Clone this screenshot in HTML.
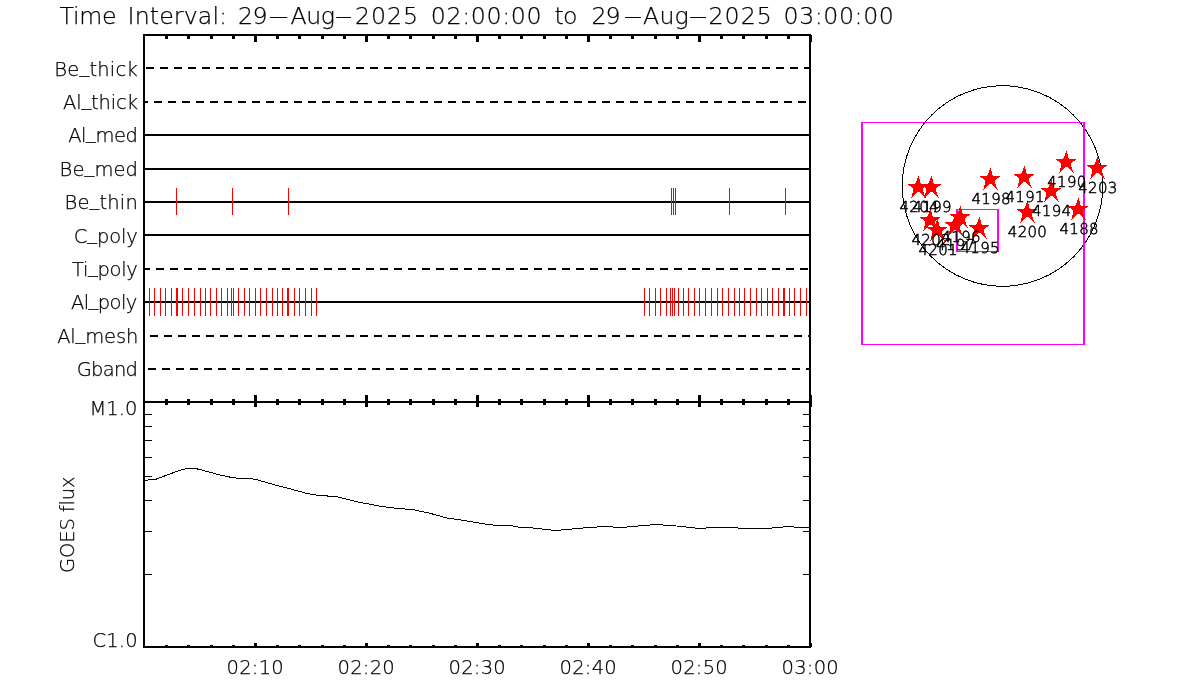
<!DOCTYPE html>
<html lang="en"><head><meta charset="utf-8"><title>Time Interval</title>
<style>
html,body{margin:0;padding:0;background:#fff;}
body{width:1200px;height:700px;overflow:hidden;}
svg{display:block;}
text{white-space:pre;}
</style></head><body>
<svg width="1200" height="700" viewBox="0 0 1200 700">
<rect width="1200" height="700" fill="#fff"/>
<g shape-rendering="crispEdges">
<rect x="143" y="34" width="668" height="2" fill="#000"/>
<rect x="143" y="401" width="668" height="2" fill="#000"/>
<rect x="143" y="646" width="668" height="2" fill="#000"/>
<rect x="143" y="34" width="2" height="614" fill="#000"/>
<rect x="809" y="34" width="2" height="614" fill="#000"/>
<rect x="165" y="36" width="3" height="3" fill="#000"/>
<rect x="165" y="399" width="3" height="6" fill="#000"/>
<rect x="165" y="645" width="3" height="1" fill="#000"/>
<rect x="187" y="36" width="3" height="3" fill="#000"/>
<rect x="187" y="399" width="3" height="6" fill="#000"/>
<rect x="187" y="645" width="3" height="1" fill="#000"/>
<rect x="210" y="36" width="3" height="3" fill="#000"/>
<rect x="210" y="399" width="3" height="6" fill="#000"/>
<rect x="210" y="645" width="3" height="1" fill="#000"/>
<rect x="232" y="36" width="3" height="3" fill="#000"/>
<rect x="232" y="399" width="3" height="6" fill="#000"/>
<rect x="232" y="645" width="3" height="1" fill="#000"/>
<rect x="254" y="36" width="3" height="6" fill="#000"/>
<rect x="254" y="395" width="3" height="12" fill="#000"/>
<rect x="254" y="643" width="3" height="3" fill="#000"/>
<rect x="276" y="36" width="3" height="3" fill="#000"/>
<rect x="276" y="399" width="3" height="6" fill="#000"/>
<rect x="276" y="645" width="3" height="1" fill="#000"/>
<rect x="298" y="36" width="3" height="3" fill="#000"/>
<rect x="298" y="399" width="3" height="6" fill="#000"/>
<rect x="298" y="645" width="3" height="1" fill="#000"/>
<rect x="321" y="36" width="3" height="3" fill="#000"/>
<rect x="321" y="399" width="3" height="6" fill="#000"/>
<rect x="321" y="645" width="3" height="1" fill="#000"/>
<rect x="343" y="36" width="3" height="3" fill="#000"/>
<rect x="343" y="399" width="3" height="6" fill="#000"/>
<rect x="343" y="645" width="3" height="1" fill="#000"/>
<rect x="365" y="36" width="3" height="6" fill="#000"/>
<rect x="365" y="395" width="3" height="12" fill="#000"/>
<rect x="365" y="643" width="3" height="3" fill="#000"/>
<rect x="387" y="36" width="3" height="3" fill="#000"/>
<rect x="387" y="399" width="3" height="6" fill="#000"/>
<rect x="387" y="645" width="3" height="1" fill="#000"/>
<rect x="409" y="36" width="3" height="3" fill="#000"/>
<rect x="409" y="399" width="3" height="6" fill="#000"/>
<rect x="409" y="645" width="3" height="1" fill="#000"/>
<rect x="432" y="36" width="3" height="3" fill="#000"/>
<rect x="432" y="399" width="3" height="6" fill="#000"/>
<rect x="432" y="645" width="3" height="1" fill="#000"/>
<rect x="454" y="36" width="3" height="3" fill="#000"/>
<rect x="454" y="399" width="3" height="6" fill="#000"/>
<rect x="454" y="645" width="3" height="1" fill="#000"/>
<rect x="476" y="36" width="3" height="6" fill="#000"/>
<rect x="476" y="395" width="3" height="12" fill="#000"/>
<rect x="476" y="643" width="3" height="3" fill="#000"/>
<rect x="498" y="36" width="3" height="3" fill="#000"/>
<rect x="498" y="399" width="3" height="6" fill="#000"/>
<rect x="498" y="645" width="3" height="1" fill="#000"/>
<rect x="520" y="36" width="3" height="3" fill="#000"/>
<rect x="520" y="399" width="3" height="6" fill="#000"/>
<rect x="520" y="645" width="3" height="1" fill="#000"/>
<rect x="543" y="36" width="3" height="3" fill="#000"/>
<rect x="543" y="399" width="3" height="6" fill="#000"/>
<rect x="543" y="645" width="3" height="1" fill="#000"/>
<rect x="565" y="36" width="3" height="3" fill="#000"/>
<rect x="565" y="399" width="3" height="6" fill="#000"/>
<rect x="565" y="645" width="3" height="1" fill="#000"/>
<rect x="587" y="36" width="3" height="6" fill="#000"/>
<rect x="587" y="395" width="3" height="12" fill="#000"/>
<rect x="587" y="643" width="3" height="3" fill="#000"/>
<rect x="609" y="36" width="3" height="3" fill="#000"/>
<rect x="609" y="399" width="3" height="6" fill="#000"/>
<rect x="609" y="645" width="3" height="1" fill="#000"/>
<rect x="631" y="36" width="3" height="3" fill="#000"/>
<rect x="631" y="399" width="3" height="6" fill="#000"/>
<rect x="631" y="645" width="3" height="1" fill="#000"/>
<rect x="654" y="36" width="3" height="3" fill="#000"/>
<rect x="654" y="399" width="3" height="6" fill="#000"/>
<rect x="654" y="645" width="3" height="1" fill="#000"/>
<rect x="676" y="36" width="3" height="3" fill="#000"/>
<rect x="676" y="399" width="3" height="6" fill="#000"/>
<rect x="676" y="645" width="3" height="1" fill="#000"/>
<rect x="698" y="36" width="3" height="6" fill="#000"/>
<rect x="698" y="395" width="3" height="12" fill="#000"/>
<rect x="698" y="643" width="3" height="3" fill="#000"/>
<rect x="720" y="36" width="3" height="3" fill="#000"/>
<rect x="720" y="399" width="3" height="6" fill="#000"/>
<rect x="720" y="645" width="3" height="1" fill="#000"/>
<rect x="742" y="36" width="3" height="3" fill="#000"/>
<rect x="742" y="399" width="3" height="6" fill="#000"/>
<rect x="742" y="645" width="3" height="1" fill="#000"/>
<rect x="765" y="36" width="3" height="3" fill="#000"/>
<rect x="765" y="399" width="3" height="6" fill="#000"/>
<rect x="765" y="645" width="3" height="1" fill="#000"/>
<rect x="787" y="36" width="3" height="3" fill="#000"/>
<rect x="787" y="399" width="3" height="6" fill="#000"/>
<rect x="787" y="645" width="3" height="1" fill="#000"/>
<rect x="811" y="35" width="1" height="7" fill="#000"/>
<rect x="811" y="395" width="1" height="12" fill="#000"/>
<rect x="811" y="643" width="1" height="4" fill="#000"/>
<rect x="146" y="67" width="8" height="2" fill="#000"/>
<rect x="160" y="67" width="8" height="2" fill="#000"/>
<rect x="174" y="67" width="8" height="2" fill="#000"/>
<rect x="188" y="67" width="8" height="2" fill="#000"/>
<rect x="202" y="67" width="8" height="2" fill="#000"/>
<rect x="216" y="67" width="8" height="2" fill="#000"/>
<rect x="230" y="67" width="8" height="2" fill="#000"/>
<rect x="244" y="67" width="8" height="2" fill="#000"/>
<rect x="258" y="67" width="8" height="2" fill="#000"/>
<rect x="272" y="67" width="8" height="2" fill="#000"/>
<rect x="286" y="67" width="8" height="2" fill="#000"/>
<rect x="300" y="67" width="8" height="2" fill="#000"/>
<rect x="314" y="67" width="8" height="2" fill="#000"/>
<rect x="328" y="67" width="8" height="2" fill="#000"/>
<rect x="342" y="67" width="8" height="2" fill="#000"/>
<rect x="356" y="67" width="8" height="2" fill="#000"/>
<rect x="370" y="67" width="8" height="2" fill="#000"/>
<rect x="384" y="67" width="8" height="2" fill="#000"/>
<rect x="398" y="67" width="8" height="2" fill="#000"/>
<rect x="412" y="67" width="8" height="2" fill="#000"/>
<rect x="426" y="67" width="8" height="2" fill="#000"/>
<rect x="440" y="67" width="8" height="2" fill="#000"/>
<rect x="454" y="67" width="8" height="2" fill="#000"/>
<rect x="468" y="67" width="8" height="2" fill="#000"/>
<rect x="482" y="67" width="8" height="2" fill="#000"/>
<rect x="496" y="67" width="8" height="2" fill="#000"/>
<rect x="510" y="67" width="8" height="2" fill="#000"/>
<rect x="524" y="67" width="8" height="2" fill="#000"/>
<rect x="538" y="67" width="8" height="2" fill="#000"/>
<rect x="552" y="67" width="8" height="2" fill="#000"/>
<rect x="566" y="67" width="8" height="2" fill="#000"/>
<rect x="580" y="67" width="8" height="2" fill="#000"/>
<rect x="594" y="67" width="8" height="2" fill="#000"/>
<rect x="608" y="67" width="8" height="2" fill="#000"/>
<rect x="622" y="67" width="8" height="2" fill="#000"/>
<rect x="636" y="67" width="8" height="2" fill="#000"/>
<rect x="650" y="67" width="8" height="2" fill="#000"/>
<rect x="664" y="67" width="8" height="2" fill="#000"/>
<rect x="678" y="67" width="8" height="2" fill="#000"/>
<rect x="692" y="67" width="8" height="2" fill="#000"/>
<rect x="706" y="67" width="8" height="2" fill="#000"/>
<rect x="720" y="67" width="8" height="2" fill="#000"/>
<rect x="734" y="67" width="8" height="2" fill="#000"/>
<rect x="748" y="67" width="8" height="2" fill="#000"/>
<rect x="762" y="67" width="8" height="2" fill="#000"/>
<rect x="776" y="67" width="8" height="2" fill="#000"/>
<rect x="790" y="67" width="8" height="2" fill="#000"/>
<rect x="804" y="67" width="5" height="2" fill="#000"/>
<rect x="145" y="101" width="3" height="2" fill="#000"/>
<rect x="154" y="101" width="8" height="2" fill="#000"/>
<rect x="168" y="101" width="8" height="2" fill="#000"/>
<rect x="182" y="101" width="8" height="2" fill="#000"/>
<rect x="196" y="101" width="8" height="2" fill="#000"/>
<rect x="210" y="101" width="8" height="2" fill="#000"/>
<rect x="224" y="101" width="8" height="2" fill="#000"/>
<rect x="238" y="101" width="8" height="2" fill="#000"/>
<rect x="252" y="101" width="8" height="2" fill="#000"/>
<rect x="266" y="101" width="8" height="2" fill="#000"/>
<rect x="280" y="101" width="8" height="2" fill="#000"/>
<rect x="294" y="101" width="8" height="2" fill="#000"/>
<rect x="308" y="101" width="8" height="2" fill="#000"/>
<rect x="322" y="101" width="8" height="2" fill="#000"/>
<rect x="336" y="101" width="8" height="2" fill="#000"/>
<rect x="350" y="101" width="8" height="2" fill="#000"/>
<rect x="364" y="101" width="8" height="2" fill="#000"/>
<rect x="378" y="101" width="8" height="2" fill="#000"/>
<rect x="392" y="101" width="8" height="2" fill="#000"/>
<rect x="406" y="101" width="8" height="2" fill="#000"/>
<rect x="420" y="101" width="8" height="2" fill="#000"/>
<rect x="434" y="101" width="8" height="2" fill="#000"/>
<rect x="448" y="101" width="8" height="2" fill="#000"/>
<rect x="462" y="101" width="8" height="2" fill="#000"/>
<rect x="476" y="101" width="8" height="2" fill="#000"/>
<rect x="490" y="101" width="8" height="2" fill="#000"/>
<rect x="504" y="101" width="8" height="2" fill="#000"/>
<rect x="518" y="101" width="8" height="2" fill="#000"/>
<rect x="532" y="101" width="8" height="2" fill="#000"/>
<rect x="546" y="101" width="8" height="2" fill="#000"/>
<rect x="560" y="101" width="8" height="2" fill="#000"/>
<rect x="574" y="101" width="8" height="2" fill="#000"/>
<rect x="588" y="101" width="8" height="2" fill="#000"/>
<rect x="602" y="101" width="8" height="2" fill="#000"/>
<rect x="616" y="101" width="8" height="2" fill="#000"/>
<rect x="630" y="101" width="8" height="2" fill="#000"/>
<rect x="644" y="101" width="8" height="2" fill="#000"/>
<rect x="658" y="101" width="8" height="2" fill="#000"/>
<rect x="672" y="101" width="8" height="2" fill="#000"/>
<rect x="686" y="101" width="8" height="2" fill="#000"/>
<rect x="700" y="101" width="8" height="2" fill="#000"/>
<rect x="714" y="101" width="8" height="2" fill="#000"/>
<rect x="728" y="101" width="8" height="2" fill="#000"/>
<rect x="742" y="101" width="8" height="2" fill="#000"/>
<rect x="756" y="101" width="8" height="2" fill="#000"/>
<rect x="770" y="101" width="8" height="2" fill="#000"/>
<rect x="784" y="101" width="8" height="2" fill="#000"/>
<rect x="798" y="101" width="8" height="2" fill="#000"/>
<rect x="145" y="134" width="664" height="2" fill="#000"/>
<rect x="145" y="168" width="664" height="2" fill="#000"/>
<rect x="145" y="201" width="664" height="2" fill="#000"/>
<rect x="145" y="234" width="664" height="2" fill="#000"/>
<rect x="145" y="268" width="5" height="2" fill="#000"/>
<rect x="156" y="268" width="8" height="2" fill="#000"/>
<rect x="170" y="268" width="8" height="2" fill="#000"/>
<rect x="184" y="268" width="8" height="2" fill="#000"/>
<rect x="198" y="268" width="8" height="2" fill="#000"/>
<rect x="212" y="268" width="8" height="2" fill="#000"/>
<rect x="226" y="268" width="8" height="2" fill="#000"/>
<rect x="240" y="268" width="8" height="2" fill="#000"/>
<rect x="254" y="268" width="8" height="2" fill="#000"/>
<rect x="268" y="268" width="8" height="2" fill="#000"/>
<rect x="282" y="268" width="8" height="2" fill="#000"/>
<rect x="296" y="268" width="8" height="2" fill="#000"/>
<rect x="310" y="268" width="8" height="2" fill="#000"/>
<rect x="324" y="268" width="8" height="2" fill="#000"/>
<rect x="338" y="268" width="8" height="2" fill="#000"/>
<rect x="352" y="268" width="8" height="2" fill="#000"/>
<rect x="366" y="268" width="8" height="2" fill="#000"/>
<rect x="380" y="268" width="8" height="2" fill="#000"/>
<rect x="394" y="268" width="8" height="2" fill="#000"/>
<rect x="408" y="268" width="8" height="2" fill="#000"/>
<rect x="422" y="268" width="8" height="2" fill="#000"/>
<rect x="436" y="268" width="8" height="2" fill="#000"/>
<rect x="450" y="268" width="8" height="2" fill="#000"/>
<rect x="464" y="268" width="8" height="2" fill="#000"/>
<rect x="478" y="268" width="8" height="2" fill="#000"/>
<rect x="492" y="268" width="8" height="2" fill="#000"/>
<rect x="506" y="268" width="8" height="2" fill="#000"/>
<rect x="520" y="268" width="8" height="2" fill="#000"/>
<rect x="534" y="268" width="8" height="2" fill="#000"/>
<rect x="548" y="268" width="8" height="2" fill="#000"/>
<rect x="562" y="268" width="8" height="2" fill="#000"/>
<rect x="576" y="268" width="8" height="2" fill="#000"/>
<rect x="590" y="268" width="8" height="2" fill="#000"/>
<rect x="604" y="268" width="8" height="2" fill="#000"/>
<rect x="618" y="268" width="8" height="2" fill="#000"/>
<rect x="632" y="268" width="8" height="2" fill="#000"/>
<rect x="646" y="268" width="8" height="2" fill="#000"/>
<rect x="660" y="268" width="8" height="2" fill="#000"/>
<rect x="674" y="268" width="8" height="2" fill="#000"/>
<rect x="688" y="268" width="8" height="2" fill="#000"/>
<rect x="702" y="268" width="8" height="2" fill="#000"/>
<rect x="716" y="268" width="8" height="2" fill="#000"/>
<rect x="730" y="268" width="8" height="2" fill="#000"/>
<rect x="744" y="268" width="8" height="2" fill="#000"/>
<rect x="758" y="268" width="8" height="2" fill="#000"/>
<rect x="772" y="268" width="8" height="2" fill="#000"/>
<rect x="786" y="268" width="8" height="2" fill="#000"/>
<rect x="800" y="268" width="8" height="2" fill="#000"/>
<rect x="145" y="301" width="664" height="2" fill="#000"/>
<rect x="150" y="335" width="8" height="2" fill="#000"/>
<rect x="164" y="335" width="8" height="2" fill="#000"/>
<rect x="178" y="335" width="8" height="2" fill="#000"/>
<rect x="192" y="335" width="8" height="2" fill="#000"/>
<rect x="206" y="335" width="8" height="2" fill="#000"/>
<rect x="220" y="335" width="8" height="2" fill="#000"/>
<rect x="234" y="335" width="8" height="2" fill="#000"/>
<rect x="248" y="335" width="8" height="2" fill="#000"/>
<rect x="262" y="335" width="8" height="2" fill="#000"/>
<rect x="276" y="335" width="8" height="2" fill="#000"/>
<rect x="290" y="335" width="8" height="2" fill="#000"/>
<rect x="304" y="335" width="8" height="2" fill="#000"/>
<rect x="318" y="335" width="8" height="2" fill="#000"/>
<rect x="332" y="335" width="8" height="2" fill="#000"/>
<rect x="346" y="335" width="8" height="2" fill="#000"/>
<rect x="360" y="335" width="8" height="2" fill="#000"/>
<rect x="374" y="335" width="8" height="2" fill="#000"/>
<rect x="388" y="335" width="8" height="2" fill="#000"/>
<rect x="402" y="335" width="8" height="2" fill="#000"/>
<rect x="416" y="335" width="8" height="2" fill="#000"/>
<rect x="430" y="335" width="8" height="2" fill="#000"/>
<rect x="444" y="335" width="8" height="2" fill="#000"/>
<rect x="458" y="335" width="8" height="2" fill="#000"/>
<rect x="472" y="335" width="8" height="2" fill="#000"/>
<rect x="486" y="335" width="8" height="2" fill="#000"/>
<rect x="500" y="335" width="8" height="2" fill="#000"/>
<rect x="514" y="335" width="8" height="2" fill="#000"/>
<rect x="528" y="335" width="8" height="2" fill="#000"/>
<rect x="542" y="335" width="8" height="2" fill="#000"/>
<rect x="556" y="335" width="8" height="2" fill="#000"/>
<rect x="570" y="335" width="8" height="2" fill="#000"/>
<rect x="584" y="335" width="8" height="2" fill="#000"/>
<rect x="598" y="335" width="8" height="2" fill="#000"/>
<rect x="612" y="335" width="8" height="2" fill="#000"/>
<rect x="626" y="335" width="8" height="2" fill="#000"/>
<rect x="640" y="335" width="8" height="2" fill="#000"/>
<rect x="654" y="335" width="8" height="2" fill="#000"/>
<rect x="668" y="335" width="8" height="2" fill="#000"/>
<rect x="682" y="335" width="8" height="2" fill="#000"/>
<rect x="696" y="335" width="8" height="2" fill="#000"/>
<rect x="710" y="335" width="8" height="2" fill="#000"/>
<rect x="724" y="335" width="8" height="2" fill="#000"/>
<rect x="738" y="335" width="8" height="2" fill="#000"/>
<rect x="752" y="335" width="8" height="2" fill="#000"/>
<rect x="766" y="335" width="8" height="2" fill="#000"/>
<rect x="780" y="335" width="8" height="2" fill="#000"/>
<rect x="794" y="335" width="8" height="2" fill="#000"/>
<rect x="808" y="335" width="1" height="2" fill="#000"/>
<rect x="148" y="368" width="8" height="2" fill="#000"/>
<rect x="162" y="368" width="8" height="2" fill="#000"/>
<rect x="176" y="368" width="8" height="2" fill="#000"/>
<rect x="190" y="368" width="8" height="2" fill="#000"/>
<rect x="204" y="368" width="8" height="2" fill="#000"/>
<rect x="218" y="368" width="8" height="2" fill="#000"/>
<rect x="232" y="368" width="8" height="2" fill="#000"/>
<rect x="246" y="368" width="8" height="2" fill="#000"/>
<rect x="260" y="368" width="8" height="2" fill="#000"/>
<rect x="274" y="368" width="8" height="2" fill="#000"/>
<rect x="288" y="368" width="8" height="2" fill="#000"/>
<rect x="302" y="368" width="8" height="2" fill="#000"/>
<rect x="316" y="368" width="8" height="2" fill="#000"/>
<rect x="330" y="368" width="8" height="2" fill="#000"/>
<rect x="344" y="368" width="8" height="2" fill="#000"/>
<rect x="358" y="368" width="8" height="2" fill="#000"/>
<rect x="372" y="368" width="8" height="2" fill="#000"/>
<rect x="386" y="368" width="8" height="2" fill="#000"/>
<rect x="400" y="368" width="8" height="2" fill="#000"/>
<rect x="414" y="368" width="8" height="2" fill="#000"/>
<rect x="428" y="368" width="8" height="2" fill="#000"/>
<rect x="442" y="368" width="8" height="2" fill="#000"/>
<rect x="456" y="368" width="8" height="2" fill="#000"/>
<rect x="470" y="368" width="8" height="2" fill="#000"/>
<rect x="484" y="368" width="8" height="2" fill="#000"/>
<rect x="498" y="368" width="8" height="2" fill="#000"/>
<rect x="512" y="368" width="8" height="2" fill="#000"/>
<rect x="526" y="368" width="8" height="2" fill="#000"/>
<rect x="540" y="368" width="8" height="2" fill="#000"/>
<rect x="554" y="368" width="8" height="2" fill="#000"/>
<rect x="568" y="368" width="8" height="2" fill="#000"/>
<rect x="582" y="368" width="8" height="2" fill="#000"/>
<rect x="596" y="368" width="8" height="2" fill="#000"/>
<rect x="610" y="368" width="8" height="2" fill="#000"/>
<rect x="624" y="368" width="8" height="2" fill="#000"/>
<rect x="638" y="368" width="8" height="2" fill="#000"/>
<rect x="652" y="368" width="8" height="2" fill="#000"/>
<rect x="666" y="368" width="8" height="2" fill="#000"/>
<rect x="680" y="368" width="8" height="2" fill="#000"/>
<rect x="694" y="368" width="8" height="2" fill="#000"/>
<rect x="708" y="368" width="8" height="2" fill="#000"/>
<rect x="722" y="368" width="8" height="2" fill="#000"/>
<rect x="736" y="368" width="8" height="2" fill="#000"/>
<rect x="750" y="368" width="8" height="2" fill="#000"/>
<rect x="764" y="368" width="8" height="2" fill="#000"/>
<rect x="778" y="368" width="8" height="2" fill="#000"/>
<rect x="792" y="368" width="8" height="2" fill="#000"/>
<rect x="806" y="368" width="3" height="2" fill="#000"/>
<rect x="145" y="414" width="7" height="1" fill="#000"/>
<rect x="803" y="414" width="6" height="1" fill="#000"/>
<rect x="145" y="426" width="7" height="1" fill="#000"/>
<rect x="803" y="426" width="6" height="1" fill="#000"/>
<rect x="145" y="440" width="7" height="1" fill="#000"/>
<rect x="803" y="440" width="6" height="1" fill="#000"/>
<rect x="145" y="457" width="7" height="1" fill="#000"/>
<rect x="803" y="457" width="6" height="1" fill="#000"/>
<rect x="145" y="476" width="7" height="1" fill="#000"/>
<rect x="803" y="476" width="6" height="1" fill="#000"/>
<rect x="145" y="500" width="7" height="1" fill="#000"/>
<rect x="803" y="500" width="6" height="1" fill="#000"/>
<rect x="145" y="531" width="7" height="1" fill="#000"/>
<rect x="803" y="531" width="6" height="1" fill="#000"/>
<rect x="145" y="574" width="7" height="1" fill="#000"/>
<rect x="803" y="574" width="6" height="1" fill="#000"/>
<rect x="176" y="188" width="1" height="27" fill="#f00"/>
<rect x="232" y="188" width="1" height="27" fill="#f00"/>
<rect x="288" y="188" width="1" height="27" fill="#f00"/>
<rect x="671" y="188" width="1" height="27" fill="#f00"/>
<rect x="673" y="188" width="1" height="27" fill="#f00"/>
<rect x="675" y="188" width="1" height="27" fill="#f00"/>
<rect x="729" y="188" width="1" height="27" fill="#f00"/>
<rect x="785" y="188" width="1" height="27" fill="#f00"/>
<rect x="149" y="288" width="1" height="28" fill="#f00"/>
<rect x="154" y="288" width="1" height="28" fill="#f00"/>
<rect x="160" y="288" width="1" height="28" fill="#f00"/>
<rect x="165" y="288" width="1" height="28" fill="#f00"/>
<rect x="171" y="288" width="1" height="28" fill="#f00"/>
<rect x="176" y="288" width="1" height="28" fill="#f00"/>
<rect x="177" y="288" width="1" height="28" fill="#f00"/>
<rect x="182" y="288" width="1" height="28" fill="#f00"/>
<rect x="188" y="288" width="1" height="28" fill="#f00"/>
<rect x="194" y="288" width="1" height="28" fill="#f00"/>
<rect x="200" y="288" width="1" height="28" fill="#f00"/>
<rect x="205" y="288" width="1" height="28" fill="#f00"/>
<rect x="210" y="288" width="1" height="28" fill="#f00"/>
<rect x="216" y="288" width="1" height="28" fill="#f00"/>
<rect x="221" y="288" width="1" height="28" fill="#f00"/>
<rect x="227" y="288" width="1" height="28" fill="#f00"/>
<rect x="231" y="288" width="1" height="28" fill="#f00"/>
<rect x="233" y="288" width="1" height="28" fill="#f00"/>
<rect x="238" y="288" width="1" height="28" fill="#f00"/>
<rect x="244" y="288" width="1" height="28" fill="#f00"/>
<rect x="249" y="288" width="1" height="28" fill="#f00"/>
<rect x="255" y="288" width="1" height="28" fill="#f00"/>
<rect x="260" y="288" width="1" height="28" fill="#f00"/>
<rect x="266" y="288" width="1" height="28" fill="#f00"/>
<rect x="272" y="288" width="1" height="28" fill="#f00"/>
<rect x="277" y="288" width="1" height="28" fill="#f00"/>
<rect x="282" y="288" width="1" height="28" fill="#f00"/>
<rect x="287" y="288" width="1" height="28" fill="#f00"/>
<rect x="288" y="288" width="1" height="28" fill="#f00"/>
<rect x="294" y="288" width="1" height="28" fill="#f00"/>
<rect x="299" y="288" width="1" height="28" fill="#f00"/>
<rect x="305" y="288" width="1" height="28" fill="#f00"/>
<rect x="311" y="288" width="1" height="28" fill="#f00"/>
<rect x="316" y="288" width="1" height="28" fill="#f00"/>
<rect x="644" y="288" width="1" height="28" fill="#f00"/>
<rect x="649" y="288" width="1" height="28" fill="#f00"/>
<rect x="655" y="288" width="1" height="28" fill="#f00"/>
<rect x="660" y="288" width="1" height="28" fill="#f00"/>
<rect x="666" y="288" width="1" height="28" fill="#f00"/>
<rect x="670" y="288" width="1" height="28" fill="#f00"/>
<rect x="672" y="288" width="1" height="28" fill="#f00"/>
<rect x="674" y="288" width="1" height="28" fill="#f00"/>
<rect x="678" y="288" width="1" height="28" fill="#f00"/>
<rect x="683" y="288" width="1" height="28" fill="#f00"/>
<rect x="688" y="288" width="1" height="28" fill="#f00"/>
<rect x="694" y="288" width="1" height="28" fill="#f00"/>
<rect x="699" y="288" width="1" height="28" fill="#f00"/>
<rect x="705" y="288" width="1" height="28" fill="#f00"/>
<rect x="711" y="288" width="1" height="28" fill="#f00"/>
<rect x="717" y="288" width="1" height="28" fill="#f00"/>
<rect x="722" y="288" width="1" height="28" fill="#f00"/>
<rect x="728" y="288" width="1" height="28" fill="#f00"/>
<rect x="734" y="288" width="1" height="28" fill="#f00"/>
<rect x="739" y="288" width="1" height="28" fill="#f00"/>
<rect x="744" y="288" width="1" height="28" fill="#f00"/>
<rect x="750" y="288" width="1" height="28" fill="#f00"/>
<rect x="756" y="288" width="1" height="28" fill="#f00"/>
<rect x="761" y="288" width="1" height="28" fill="#f00"/>
<rect x="767" y="288" width="1" height="28" fill="#f00"/>
<rect x="772" y="288" width="1" height="28" fill="#f00"/>
<rect x="778" y="288" width="1" height="28" fill="#f00"/>
<rect x="783" y="288" width="1" height="28" fill="#f00"/>
<rect x="784" y="288" width="1" height="28" fill="#f00"/>
<rect x="789" y="288" width="1" height="28" fill="#f00"/>
<rect x="794" y="288" width="1" height="28" fill="#f00"/>
<rect x="800" y="288" width="1" height="28" fill="#f00"/>
<rect x="806" y="288" width="1" height="28" fill="#f00"/>
</g>
<polyline fill="none" stroke="#000" stroke-width="1" shape-rendering="crispEdges" points="145,480.4 156.2,479.1 168.8,474.4 178.8,470.6 188.1,468.3 193.8,468.3 200,469.5 210,472.3 221.3,475.3 231.9,477.5 240,478.4 248.8,478.4 256.3,479.6 266.3,482.5 277.5,485.6 290,488.8 308.3,493.8 318.3,495.3 330,496.2 335.8,496.5 356.7,501.7 380,506.2 396.7,508.3 413.3,509.7 430,513.3 446.7,518 463.3,520.3 486.7,524.3 496.7,525.5 510,525.5 520,527.3 528,527.5 538.7,528.5 546,529.5 555.4,530.5 566.4,529.5 577.5,528.5 588.5,527.5 605,526.5 621.3,527.5 632.3,526.5 644,525.5 655.4,524.5 670,525.5 682.7,526.5 690,527.5 699.5,528.5 712,527.5 732,527.5 744,528.5 766,528.5 777.5,527.5 788.5,526.5 799,527.5 809,527.5"/>
<circle cx="1002.5" cy="186" r="100.3" fill="none" stroke="#000" stroke-width="1" shape-rendering="crispEdges"/>
<g shape-rendering="crispEdges">
<rect x="956" y="209" width="43" height="1" fill="#f0f"/>
<rect x="956" y="251" width="43" height="1" fill="#f0f"/>
<rect x="956" y="209" width="2" height="43" fill="#f0f"/>
<rect x="997" y="209" width="2" height="43" fill="#f0f"/>
<rect x="861" y="122" width="224" height="1" fill="#f0f"/>
<rect x="861" y="344" width="224" height="1" fill="#f0f"/>
<rect x="861" y="122" width="2" height="223" fill="#f0f"/>
<rect x="1083" y="122" width="2" height="223" fill="#f0f"/>
</g>
<g fill="#f00" shape-rendering="crispEdges">
<path transform="translate(1054,150)" d="M12,1h1v1h-1zM12,2h1v1h-1zM11,3h2v1h-2zM11,4h3v1h-3zM11,5h3v1h-3zM10,6h4v1h-4zM10,7h4v1h-4zM9,8h6v1h-6zM2,9h20v1h-20zM3,10h18v1h-18zM5,11h14v1h-14zM6,12h12v1h-12zM7,13h10v1h-10zM7,14h10v1h-10zM7,15h10v1h-10zM7,16h10v1h-10zM7,17h4v1h-4zM14,17h4v1h-4zM6,18h4v1h-4zM15,18h3v1h-3zM6,19h3v1h-3zM16,19h2v1h-2zM6,20h2v1h-2zM17,20h2v1h-2zM6,21h1v1h-1zM18,21h1v1h-1zM5,22h1v1h-1zM19,22h1v1h-1z"/>
<path transform="translate(1085,156)" d="M12,1h1v1h-1zM12,2h1v1h-1zM11,3h2v1h-2zM11,4h3v1h-3zM11,5h3v1h-3zM10,6h4v1h-4zM10,7h4v1h-4zM9,8h6v1h-6zM2,9h20v1h-20zM3,10h18v1h-18zM5,11h14v1h-14zM6,12h12v1h-12zM7,13h10v1h-10zM7,14h10v1h-10zM7,15h10v1h-10zM7,16h10v1h-10zM7,17h4v1h-4zM14,17h4v1h-4zM6,18h4v1h-4zM15,18h3v1h-3zM6,19h3v1h-3zM16,19h2v1h-2zM6,20h2v1h-2zM17,20h2v1h-2zM6,21h1v1h-1zM18,21h1v1h-1zM5,22h1v1h-1zM19,22h1v1h-1z"/>
<path transform="translate(1012,165)" d="M12,1h1v1h-1zM12,2h1v1h-1zM11,3h2v1h-2zM11,4h3v1h-3zM11,5h3v1h-3zM10,6h4v1h-4zM10,7h4v1h-4zM9,8h6v1h-6zM2,9h20v1h-20zM3,10h18v1h-18zM5,11h14v1h-14zM6,12h12v1h-12zM7,13h10v1h-10zM7,14h10v1h-10zM7,15h10v1h-10zM7,16h10v1h-10zM7,17h4v1h-4zM14,17h4v1h-4zM6,18h4v1h-4zM15,18h3v1h-3zM6,19h3v1h-3zM16,19h2v1h-2zM6,20h2v1h-2zM17,20h2v1h-2zM6,21h1v1h-1zM18,21h1v1h-1zM5,22h1v1h-1zM19,22h1v1h-1z"/>
<path transform="translate(978,167)" d="M12,1h1v1h-1zM12,2h1v1h-1zM11,3h2v1h-2zM11,4h3v1h-3zM11,5h3v1h-3zM10,6h4v1h-4zM10,7h4v1h-4zM9,8h6v1h-6zM2,9h20v1h-20zM3,10h18v1h-18zM5,11h14v1h-14zM6,12h12v1h-12zM7,13h10v1h-10zM7,14h10v1h-10zM7,15h10v1h-10zM7,16h10v1h-10zM7,17h4v1h-4zM14,17h4v1h-4zM6,18h4v1h-4zM15,18h3v1h-3zM6,19h3v1h-3zM16,19h2v1h-2zM6,20h2v1h-2zM17,20h2v1h-2zM6,21h1v1h-1zM18,21h1v1h-1zM5,22h1v1h-1zM19,22h1v1h-1z"/>
<path transform="translate(1039,179)" d="M12,1h1v1h-1zM12,2h1v1h-1zM11,3h2v1h-2zM11,4h3v1h-3zM11,5h3v1h-3zM10,6h4v1h-4zM10,7h4v1h-4zM9,8h6v1h-6zM2,9h20v1h-20zM3,10h18v1h-18zM5,11h14v1h-14zM6,12h12v1h-12zM7,13h10v1h-10zM7,14h10v1h-10zM7,15h10v1h-10zM7,16h10v1h-10zM7,17h4v1h-4zM14,17h4v1h-4zM6,18h4v1h-4zM15,18h3v1h-3zM6,19h3v1h-3zM16,19h2v1h-2zM6,20h2v1h-2zM17,20h2v1h-2zM6,21h1v1h-1zM18,21h1v1h-1zM5,22h1v1h-1zM19,22h1v1h-1z"/>
<path transform="translate(906,175)" d="M12,1h1v1h-1zM12,2h1v1h-1zM11,3h2v1h-2zM11,4h3v1h-3zM11,5h3v1h-3zM10,6h4v1h-4zM10,7h4v1h-4zM9,8h6v1h-6zM2,9h20v1h-20zM3,10h18v1h-18zM5,11h14v1h-14zM6,12h12v1h-12zM7,13h10v1h-10zM7,14h10v1h-10zM7,15h10v1h-10zM7,16h10v1h-10zM7,17h4v1h-4zM14,17h4v1h-4zM6,18h4v1h-4zM15,18h3v1h-3zM6,19h3v1h-3zM16,19h2v1h-2zM6,20h2v1h-2zM17,20h2v1h-2zM6,21h1v1h-1zM18,21h1v1h-1zM5,22h1v1h-1zM19,22h1v1h-1z"/>
<path transform="translate(919,175)" d="M12,1h1v1h-1zM12,2h1v1h-1zM11,3h2v1h-2zM11,4h3v1h-3zM11,5h3v1h-3zM10,6h4v1h-4zM10,7h4v1h-4zM9,8h6v1h-6zM2,9h20v1h-20zM3,10h18v1h-18zM5,11h14v1h-14zM6,12h12v1h-12zM7,13h10v1h-10zM7,14h10v1h-10zM7,15h10v1h-10zM7,16h10v1h-10zM7,17h4v1h-4zM14,17h4v1h-4zM6,18h4v1h-4zM15,18h3v1h-3zM6,19h3v1h-3zM16,19h2v1h-2zM6,20h2v1h-2zM17,20h2v1h-2zM6,21h1v1h-1zM18,21h1v1h-1zM5,22h1v1h-1zM19,22h1v1h-1z"/>
<path transform="translate(1015,200)" d="M12,1h1v1h-1zM12,2h1v1h-1zM11,3h2v1h-2zM11,4h3v1h-3zM11,5h3v1h-3zM10,6h4v1h-4zM10,7h4v1h-4zM9,8h6v1h-6zM2,9h20v1h-20zM3,10h18v1h-18zM5,11h14v1h-14zM6,12h12v1h-12zM7,13h10v1h-10zM7,14h10v1h-10zM7,15h10v1h-10zM7,16h10v1h-10zM7,17h4v1h-4zM14,17h4v1h-4zM6,18h4v1h-4zM15,18h3v1h-3zM6,19h3v1h-3zM16,19h2v1h-2zM6,20h2v1h-2zM17,20h2v1h-2zM6,21h1v1h-1zM18,21h1v1h-1zM5,22h1v1h-1zM19,22h1v1h-1z"/>
<path transform="translate(1066,197)" d="M12,1h1v1h-1zM12,2h1v1h-1zM11,3h2v1h-2zM11,4h3v1h-3zM11,5h3v1h-3zM10,6h4v1h-4zM10,7h4v1h-4zM9,8h6v1h-6zM2,9h20v1h-20zM3,10h18v1h-18zM5,11h14v1h-14zM6,12h12v1h-12zM7,13h10v1h-10zM7,14h10v1h-10zM7,15h10v1h-10zM7,16h10v1h-10zM7,17h4v1h-4zM14,17h4v1h-4zM6,18h4v1h-4zM15,18h3v1h-3zM6,19h3v1h-3zM16,19h2v1h-2zM6,20h2v1h-2zM17,20h2v1h-2zM6,21h1v1h-1zM18,21h1v1h-1zM5,22h1v1h-1zM19,22h1v1h-1z"/>
<path transform="translate(918,208)" d="M12,1h1v1h-1zM12,2h1v1h-1zM11,3h2v1h-2zM11,4h3v1h-3zM11,5h3v1h-3zM10,6h4v1h-4zM10,7h4v1h-4zM9,8h6v1h-6zM2,9h20v1h-20zM3,10h18v1h-18zM5,11h14v1h-14zM6,12h12v1h-12zM7,13h10v1h-10zM7,14h10v1h-10zM7,15h10v1h-10zM7,16h10v1h-10zM7,17h4v1h-4zM14,17h4v1h-4zM6,18h4v1h-4zM15,18h3v1h-3zM6,19h3v1h-3zM16,19h2v1h-2zM6,20h2v1h-2zM17,20h2v1h-2zM6,21h1v1h-1zM18,21h1v1h-1zM5,22h1v1h-1zM19,22h1v1h-1z"/>
<path transform="translate(925,218)" d="M12,1h1v1h-1zM12,2h1v1h-1zM11,3h2v1h-2zM11,4h3v1h-3zM11,5h3v1h-3zM10,6h4v1h-4zM10,7h4v1h-4zM9,8h6v1h-6zM2,9h20v1h-20zM3,10h18v1h-18zM5,11h14v1h-14zM6,12h12v1h-12zM7,13h10v1h-10zM7,14h10v1h-10zM7,15h10v1h-10zM7,16h10v1h-10zM7,17h4v1h-4zM14,17h4v1h-4zM6,18h4v1h-4zM15,18h3v1h-3zM6,19h3v1h-3zM16,19h2v1h-2zM6,20h2v1h-2zM17,20h2v1h-2zM6,21h1v1h-1zM18,21h1v1h-1zM5,22h1v1h-1zM19,22h1v1h-1z"/>
<path transform="translate(948,205)" d="M12,1h1v1h-1zM12,2h1v1h-1zM11,3h2v1h-2zM11,4h3v1h-3zM11,5h3v1h-3zM10,6h4v1h-4zM10,7h4v1h-4zM9,8h6v1h-6zM2,9h20v1h-20zM3,10h18v1h-18zM5,11h14v1h-14zM6,12h12v1h-12zM7,13h10v1h-10zM7,14h10v1h-10zM7,15h10v1h-10zM7,16h10v1h-10zM7,17h4v1h-4zM14,17h4v1h-4zM6,18h4v1h-4zM15,18h3v1h-3zM6,19h3v1h-3zM16,19h2v1h-2zM6,20h2v1h-2zM17,20h2v1h-2zM6,21h1v1h-1zM18,21h1v1h-1zM5,22h1v1h-1zM19,22h1v1h-1z"/>
<path transform="translate(943,213)" d="M12,1h1v1h-1zM12,2h1v1h-1zM11,3h2v1h-2zM11,4h3v1h-3zM11,5h3v1h-3zM10,6h4v1h-4zM10,7h4v1h-4zM9,8h6v1h-6zM2,9h20v1h-20zM3,10h18v1h-18zM5,11h14v1h-14zM6,12h12v1h-12zM7,13h10v1h-10zM7,14h10v1h-10zM7,15h10v1h-10zM7,16h10v1h-10zM7,17h4v1h-4zM14,17h4v1h-4zM6,18h4v1h-4zM15,18h3v1h-3zM6,19h3v1h-3zM16,19h2v1h-2zM6,20h2v1h-2zM17,20h2v1h-2zM6,21h1v1h-1zM18,21h1v1h-1zM5,22h1v1h-1zM19,22h1v1h-1z"/>
<path transform="translate(967,216)" d="M12,1h1v1h-1zM12,2h1v1h-1zM11,3h2v1h-2zM11,4h3v1h-3zM11,5h3v1h-3zM10,6h4v1h-4zM10,7h4v1h-4zM9,8h6v1h-6zM2,9h20v1h-20zM3,10h18v1h-18zM5,11h14v1h-14zM6,12h12v1h-12zM7,13h10v1h-10zM7,14h10v1h-10zM7,15h10v1h-10zM7,16h10v1h-10zM7,17h4v1h-4zM14,17h4v1h-4zM6,18h4v1h-4zM15,18h3v1h-3zM6,19h3v1h-3zM16,19h2v1h-2zM6,20h2v1h-2zM17,20h2v1h-2zM6,21h1v1h-1zM18,21h1v1h-1zM5,22h1v1h-1zM19,22h1v1h-1z"/>
</g>
<g font-family='"DejaVu Sans Light","DejaVu Sans","Liberation Sans",sans-serif' font-weight="200" fill="#000" stroke="#000" stroke-width="0.25" style="will-change:transform">
<text y="24.2" font-size="23.7"><tspan x="59.5" letter-spacing="-0.333">Time</tspan> <tspan x="127.62" letter-spacing="0.094">Interval:</tspan> <tspan x="238.12" letter-spacing="-0.75">29</tspan><tspan x="267.31" textLength="22.88" lengthAdjust="spacingAndGlyphs">-</tspan><tspan x="290.38" letter-spacing="-0.375">Aug</tspan><tspan x="333.98" textLength="19.28" lengthAdjust="spacingAndGlyphs">-</tspan><tspan x="355.12" letter-spacing="0.917">2025</tspan> <tspan x="430.75" letter-spacing="0.643">02:00:00</tspan> <tspan x="554.38" letter-spacing="-0.75">to</tspan> <tspan x="591.62" letter-spacing="-1.25">29</tspan><tspan x="622.54" textLength="20.92" lengthAdjust="spacingAndGlyphs">-</tspan><tspan x="643.12" letter-spacing="0.125">Aug</tspan><tspan x="687.50" textLength="21.24" lengthAdjust="spacingAndGlyphs">-</tspan><tspan x="708.5" letter-spacing="1">2025</tspan> <tspan x="783.5" letter-spacing="0.571">03:00:00</tspan></text>
<text x="54.25" y="76" font-size="19.5" letter-spacing="0.214" text-anchor="start">Be<tspan dy="-4.3">_</tspan><tspan dy="4.3">thick</tspan></text>
<text x="63" y="109.3" font-size="19.5" letter-spacing="-0.143" text-anchor="start">Al<tspan dy="-4.3">_</tspan><tspan dy="4.3">thick</tspan></text>
<text x="68.15" y="141.9" font-size="19.5" letter-spacing="-0.42" text-anchor="start">Al<tspan dy="-4.3">_</tspan><tspan dy="4.3">med</tspan></text>
<text x="59.55" y="175.8" font-size="19.5" letter-spacing="0.1" text-anchor="start">Be<tspan dy="-4.3">_</tspan><tspan dy="4.3">med</tspan></text>
<text x="64.5" y="209" font-size="19.5" letter-spacing="0.167" text-anchor="start">Be<tspan dy="-4.3">_</tspan><tspan dy="4.3">thin</tspan></text>
<text x="73.75" y="242.8" font-size="19.5" letter-spacing="-0.1" text-anchor="start">C<tspan dy="-4.3">_</tspan><tspan dy="4.3">poly</tspan></text>
<text x="72" y="276" font-size="19.5" letter-spacing="-0.333" text-anchor="start">Ti<tspan dy="-4.3">_</tspan><tspan dy="4.3">poly</tspan></text>
<text x="70.9" y="309" font-size="19.5" letter-spacing="-0.567" text-anchor="start">Al<tspan dy="-4.3">_</tspan><tspan dy="4.3">poly</tspan></text>
<text x="57.15" y="342.8" font-size="19.5" letter-spacing="-0.15" text-anchor="start">Al<tspan dy="-4.3">_</tspan><tspan dy="4.3">mesh</tspan></text>
<text x="76.65" y="376" font-size="19.5" letter-spacing="-0.725" text-anchor="start">Gband</text>
<text x="89.38" y="415" font-size="19.5" letter-spacing="0.083" text-anchor="start">M1.0</text>
<text transform="translate(74,572) rotate(-90)" x="-1" y="0" font-size="19.5" letter-spacing="-0.125">GOES flux</text>
<text x="92.5" y="647" font-size="19.5" letter-spacing="0.167" text-anchor="start">C1.0</text>
<text x="226.5" y="673.7" font-size="19.5" letter-spacing="0.25" text-anchor="start">02:10</text>
<text x="337.5" y="673.7" font-size="19.5" letter-spacing="0.25" text-anchor="start">02:20</text>
<text x="448.5" y="673.7" font-size="19.5" letter-spacing="0.25" text-anchor="start">02:30</text>
<text x="559.5" y="673.7" font-size="19.5" letter-spacing="0.25" text-anchor="start">02:40</text>
<text x="670.5" y="673.7" font-size="19.5" letter-spacing="0.25" text-anchor="start">02:50</text>
<text x="781.5" y="673.7" font-size="19.5" letter-spacing="0.25" text-anchor="start">03:00</text>
<text x="1047.25" y="186.9" font-size="15" letter-spacing="0.3" text-anchor="start" text-rendering="geometricPrecision" stroke-width="0.5">4190</text>
<text x="1078.25" y="193.2" font-size="15" letter-spacing="0.3" text-anchor="start" text-rendering="geometricPrecision" stroke-width="0.5">4203</text>
<text x="1005.5" y="201.9" font-size="15" letter-spacing="0.3" text-anchor="start" text-rendering="geometricPrecision" stroke-width="0.5">4191</text>
<text x="971.5" y="203.9" font-size="15" letter-spacing="0.3" text-anchor="start" text-rendering="geometricPrecision" stroke-width="0.5">4198</text>
<text x="1032" y="215.9" font-size="15" letter-spacing="0.3" text-anchor="start" text-rendering="geometricPrecision" stroke-width="0.5">4194</text>
<text x="899.5" y="212.2" font-size="15" letter-spacing="0.3" text-anchor="start" text-rendering="geometricPrecision" stroke-width="0.5">4204</text>
<text x="912.5" y="212.2" font-size="15" letter-spacing="0.3" text-anchor="start" text-rendering="geometricPrecision" stroke-width="0.5">4199</text>
<text x="1007.8" y="236.9" font-size="15" letter-spacing="0.3" text-anchor="start" text-rendering="geometricPrecision" stroke-width="0.5">4200</text>
<text x="1059.5" y="233.9" font-size="15" letter-spacing="0.3" text-anchor="start" text-rendering="geometricPrecision" stroke-width="0.5">4188</text>
<text x="911.5" y="244.9" font-size="15" letter-spacing="0.3" text-anchor="start" text-rendering="geometricPrecision" stroke-width="0.5">4202</text>
<text x="918.5" y="254.9" font-size="15" letter-spacing="0.3" text-anchor="start" text-rendering="geometricPrecision" stroke-width="0.5">4201</text>
<text x="941.5" y="241.9" font-size="15" letter-spacing="0.3" text-anchor="start" text-rendering="geometricPrecision" stroke-width="0.5">4196</text>
<text x="936" y="249.9" font-size="15" letter-spacing="0.3" text-anchor="start" text-rendering="geometricPrecision" stroke-width="0.5">4197</text>
<text x="960.5" y="252.7" font-size="15" letter-spacing="0.3" text-anchor="start" text-rendering="geometricPrecision" stroke-width="0.5">4195</text>
</g>
</svg>
</body></html>
